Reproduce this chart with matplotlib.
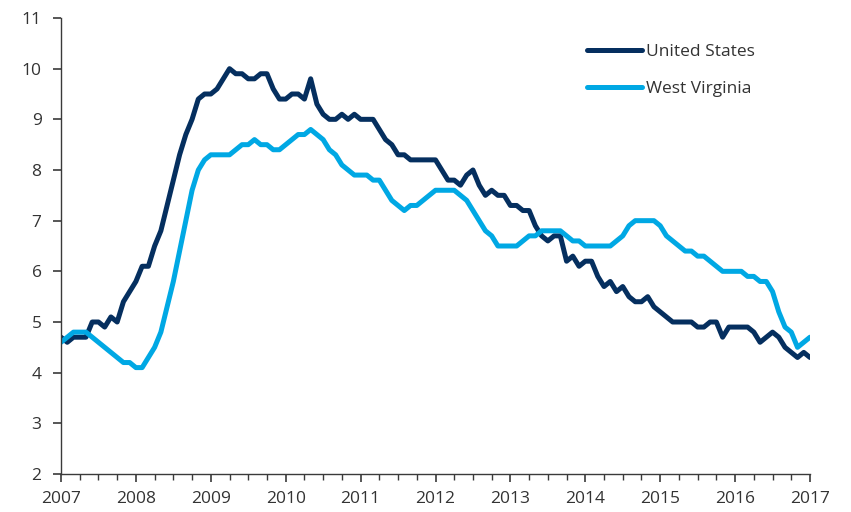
import matplotlib
matplotlib.use("Agg")
import matplotlib.pyplot as plt
import numpy as np
from matplotlib.ticker import MultipleLocator

plt.rcParams['font.family'] = ['Open Sans', 'DejaVu Sans']

start_year = 2007
us_rate = [4.7, 4.6, 4.7, 4.7, 4.7, 5.0,
           5.0, 4.9, 5.1, 5.0, 5.4, 5.6, 5.8, 6.1, 6.1, 6.5, 6.8, 7.3,
           7.8, 8.3, 8.7, 9.0, 9.4, 9.5, 9.5, 9.6, 9.8, 10.0, 9.9, 9.9,
           9.8, 9.8, 9.9, 9.9, 9.6, 9.4, 9.4, 9.5, 9.5, 9.4, 9.8, 9.3,
           9.1, 9.0, 9.0, 9.1, 9.0, 9.1, 9.0, 9.0, 9.0, 8.8, 8.6, 8.5,
           8.3, 8.3, 8.2, 8.2, 8.2, 8.2, 8.2, 8.0, 7.8, 7.8, 7.7, 7.9,
           8.0, 7.7, 7.5, 7.6, 7.5, 7.5, 7.3, 7.3, 7.2, 7.2, 6.9, 6.7,
           6.6, 6.7, 6.7, 6.2, 6.3, 6.1, 6.2, 6.2, 5.9, 5.7, 5.8, 5.6,
           5.7, 5.5, 5.4, 5.4, 5.5, 5.3, 5.2, 5.1, 5.0, 5.0, 5.0, 5.0,
           4.9, 4.9, 5.0, 5.0, 4.7, 4.9, 4.9, 4.9, 4.9, 4.8, 4.6, 4.7,
           4.8, 4.7, 4.5, 4.4, 4.3, 4.4, 4.3]
wv_rate = [4.6, 4.7, 4.8, 4.8, 4.8, 4.7, 4.6, 4.5, 4.4, 4.3, 4.2, 4.2,
           4.1, 4.1, 4.3, 4.5, 4.8, 5.3, 5.8, 6.4, 7.0, 7.6, 8.0, 8.2,
           8.3, 8.3, 8.3, 8.3, 8.4, 8.5, 8.5, 8.6, 8.5, 8.5, 8.4, 8.4,
           8.5, 8.6, 8.7, 8.7, 8.8, 8.7, 8.6, 8.4, 8.3, 8.1, 8.0, 7.9,
           7.9, 7.9, 7.8, 7.8, 7.6, 7.4, 7.3, 7.2, 7.3, 7.3, 7.4, 7.5,
           7.6, 7.6, 7.6, 7.6, 7.5, 7.4, 7.2, 7.0, 6.8, 6.7, 6.5, 6.5,
           6.5, 6.5, 6.6, 6.7, 6.7, 6.8, 6.8, 6.8, 6.8, 6.7, 6.6, 6.6,
           6.5, 6.5, 6.5, 6.5, 6.5, 6.6, 6.7, 6.9, 7.0, 7.0, 7.0, 7.0,
           6.9, 6.7, 6.6, 6.5, 6.4, 6.4, 6.3, 6.3, 6.2, 6.1, 6.0, 6.0,
           6.0, 6.0, 5.9, 5.9, 5.8, 5.8, 5.6, 5.2, 4.9, 4.8, 4.5, 4.6,
           4.7]
year_ticks = list(range(2007, 2018))
y_ticks = list(range(2, 12))
labels = ["United States", "West Virginia"]

x = start_year + np.arange(len(us_rate)) / 12.0

fig = plt.figure(figsize=(8.51, 5.12), dpi=100)
ax = fig.add_axes([61/851, 1 - 474/512, (810-61)/851, (474-18)/512])

ax.plot(x, us_rate, color="#052f5f", lw=3.6, label=labels[0], solid_joinstyle='round', solid_capstyle='round')
ax.plot(x, wv_rate, color="#00a8e4", lw=3.6, label=labels[1], solid_joinstyle='round', solid_capstyle='round')

ax.set_xlim(2007, 2017)
ax.set_ylim(2, 11)
ax.set_xticks(year_ticks)
ax.set_xticklabels([str(y) for y in year_ticks])
ax.xaxis.set_minor_locator(MultipleLocator(0.25))
ax.set_yticks(y_ticks)

for s in ["top", "right"]:
    ax.spines[s].set_visible(False)
for s in ["left", "bottom"]:
    ax.spines[s].set_color("#3a3a3a")
    ax.spines[s].set_linewidth(1.0)

ax.tick_params(axis="both", which="major", direction="out", length=6, width=1.2,
               color="#3a3a3a", labelsize=12.5, labelcolor="#333333")
ax.tick_params(axis="x", which="minor", direction="out", length=4, width=1.0, color="#3a3a3a")
ax.tick_params(axis="x", which="major", pad=6)
ax.tick_params(axis="y", which="major", pad=8)

leg = ax.legend(loc="upper left", bbox_to_anchor=(0.702, 0.944), frameon=False,
                fontsize=12.5, handlelength=3.2, handletextpad=0.2,
                labelspacing=1.24, borderpad=0, borderaxespad=0)
for t in leg.get_texts():
    t.set_color("#333333")

fig.savefig("out.png", dpi=100)
